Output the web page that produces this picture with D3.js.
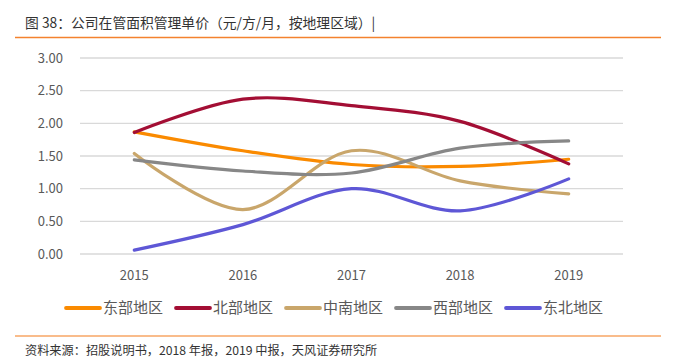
<!DOCTYPE html>
<html>
<head>
<meta charset="utf-8">
<script src="https://cdn.jsdelivr.net/npm/d3@7"></script>
<style>
  body { margin: 0; background: #fff; }
  text { font-family: "Noto Sans CJK SC", "Noto Sans", sans-serif; }
</style>
</head>
<body>
<script>
var years = ["2015", "2016", "2017", "2018", "2019"];
var yTicks = [0, 0.5, 1, 1.5, 2, 2.5, 3];
var regions = ["东部地区", "北部地区", "中南地区", "西部地区", "东北地区"];
var colors = ["#fa8a00", "#a30e34", "#c9a66b", "#878787", "#5e57d6"];

var east      = [1.87, 1.58, 1.37, 1.34, 1.45];
var north     = [1.86, 2.37, 2.27, 2.03, 1.38];
var southMid  = [1.54, 0.68, 1.58, 1.12, 0.92];
var west      = [1.44, 1.27, 1.24, 1.62, 1.73];
var northEast = [0.06, 0.45, 1.00, 0.66, 1.15];
var seriesValues = [east, north, southMid, west, northEast];

var width = 700, height = 361;

var svg = d3.select("body").append("svg")
    .attr("width", width)
    .attr("height", height);

// title and rules
svg.append("text")
    .attr("x", 25).attr("y", 23)
    .attr("dy", "0.35em")
    .attr("font-size", 13.8)
    .attr("fill", "#333")
    .text("图 38：公司在管面积管理单价（元/方/月，按地理区域）|");

svg.append("line")
    .attr("x1", 15).attr("x2", 661)
    .attr("y1", 37.5).attr("y2", 37.5)
    .attr("stroke", "#f4822e").attr("stroke-width", 1.6);

svg.append("line")
    .attr("x1", 15).attr("x2", 661)
    .attr("y1", 336).attr("y2", 336)
    .attr("stroke", "#f7a665").attr("stroke-width", 1.5);

svg.append("text")
    .attr("x", 25).attr("y", 351)
    .attr("dy", "0.35em")
    .attr("font-size", 12.2)
    .attr("fill", "#333")
    .text("资料来源：招股说明书，2018 年报，2019 中报，天风证券研究所");

// scales
var x = d3.scalePoint().domain(years).range([80, 623]).padding(0.5);
var y = d3.scaleLinear().domain([0, 3]).range([254, 58]);

// grid
svg.append("g").selectAll("line")
    .data(yTicks)
  .enter().append("line")
    .attr("x1", 80).attr("x2", 623)
    .attr("y1", function(d) { return y(d); })
    .attr("y2", function(d) { return y(d); })
    .attr("stroke", "#d9d9d9")
    .attr("stroke-width", 1.3);

// y labels
svg.append("g").selectAll("text")
    .data(yTicks)
  .enter().append("text")
    .attr("x", 63)
    .attr("y", function(d) { return y(d); })
    .attr("dy", "0.35em")
    .attr("text-anchor", "end")
    .attr("font-size", 13)
    .attr("fill", "#595959")
    .text(function(d) { return d3.format(".2f")(d); });

// x labels
svg.append("g").selectAll("text")
    .data(years)
  .enter().append("text")
    .attr("x", function(d) { return x(d); })
    .attr("y", 275)
    .attr("dy", "0.35em")
    .attr("text-anchor", "middle")
    .attr("font-size", 13)
    .attr("fill", "#595959")
    .text(function(d) { return d; });

// lines
var line = d3.line()
    .x(function(d, i) { return x(years[i]); })
    .y(function(d) { return y(d); })
    .curve(d3.curveCardinal.tension(0));

svg.append("g").selectAll("path")
    .data(seriesValues)
  .enter().append("path")
    .attr("d", line)
    .attr("fill", "none")
    .attr("stroke", function(d, i) { return colors[i]; })
    .attr("stroke-width", 3.2)
    .attr("stroke-linecap", "round");

// legend
var legend = svg.append("g").selectAll("g")
    .data(regions)
  .enter().append("g")
    .attr("transform", function(d, i) { return "translate(" + (65 + i * 110) + ",308)"; });

legend.append("line")
    .attr("x1", 1).attr("x2", 35)
    .attr("stroke", function(d, i) { return colors[i]; })
    .attr("stroke-width", 3.8)
    .attr("stroke-linecap", "round");

legend.append("text")
    .attr("x", 38)
    .attr("dy", "0.35em")
    .attr("font-size", 15)
    .attr("fill", "#595959")
    .text(function(d) { return d; });
</script>
</body>
</html>
